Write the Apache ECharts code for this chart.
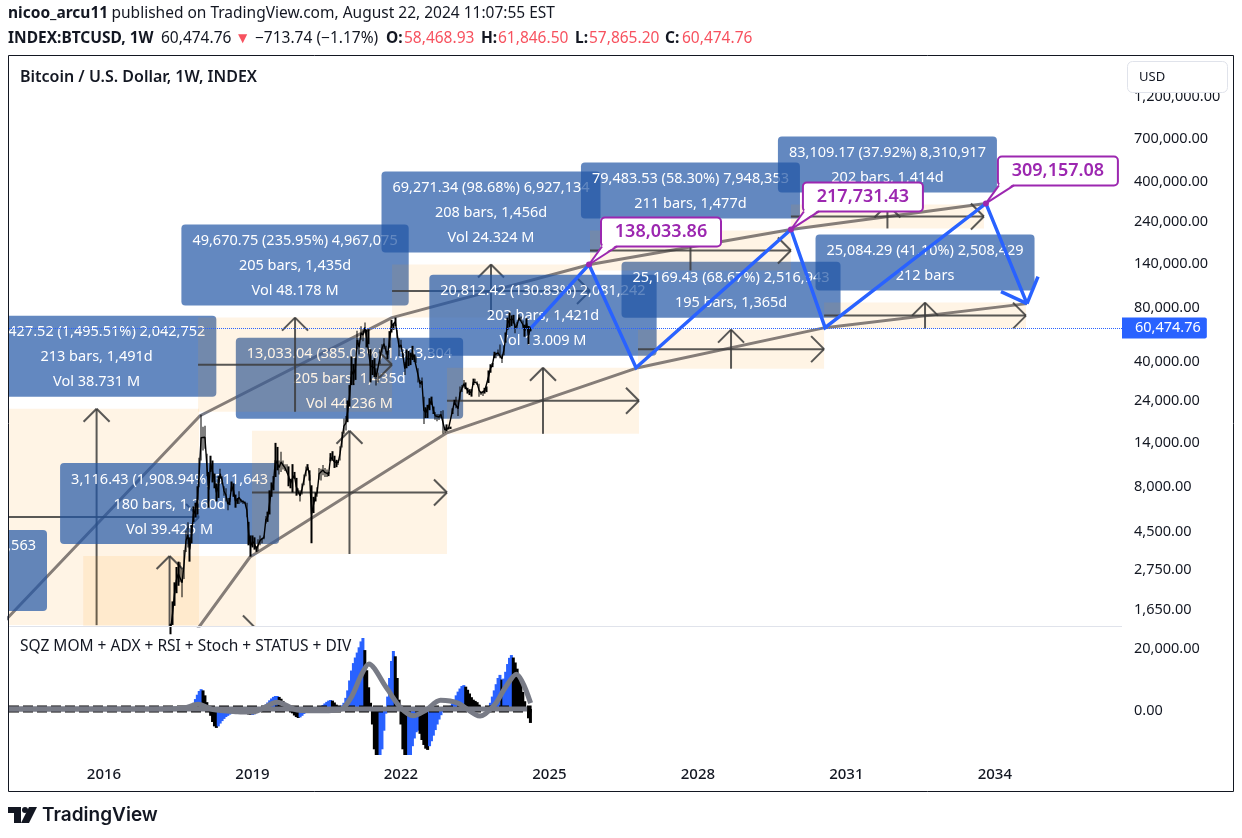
<!DOCTYPE html>
<html>
<head>
<meta charset="utf-8">
<style>html,body{margin:0;padding:0;background:#fff}#main{width:1242px;height:838px}</style>
<script src="https://cdn.jsdelivr.net/npm/echarts@6/dist/echarts.min.js"></script>
</head>
<body>
<div id="main"></div>
<script>
// weekly BTC, one sample every two weeks, from spring 2017
var priceStart = 2017.27;
var priceLow = [1010,1120,1180,1330,1700,2000,2200,2300,1900,2400,3400,3600,3000,3800,5000,5300,5500,7800,11000,
  12500,12800,9000,6000,9500,8300,7700,6500,6800,8700,8100,7000,6500,5800,6200,7400,6900,6000,6300,6300,6400,6300,6300,5300,3700,3200,
  3600,3500,3400,3450,3700,3800,4000,4900,5000,5500,6900,7500,8900,9700,9200,9500,9800,9600,9500,7900,7700,7300,8700,7000,7100,6500,
  7100,8000,9000,9700,8500,3800,5600,6500,6900,8600,8500,9100,8900,8900,9000,10900,11000,10000,10100,10400,11000,13000,15500,16200,18000,22000,
  29000,29000,31000,46000,43000,52000,51000,57000,47000,49000,30000,33000,32000,28800,30000,38000,44000,46000,43000,40500,47000,57000,59000,62000,53000,42000,
  45600,41000,33000,36000,37000,37500,40000,39000,38500,30000,28000,29000,17600,19000,19000,21000,22500,20000,18600,18200,18500,19000,15500,15700,16000,16400,
  16500,20000,22500,21500,19500,24000,26500,28000,27500,26000,25500,25000,29000,29800,29000,25000,25500,25200,26000,26500,29800,34000,36500,41000,41000,42000,
  41000,38500,42500,50000,59000,61000,62000,64000,56500,60000,66000,66000,60000,54000,60000,49000,57900];
var priceHigh = [1280,1240,1350,1800,2300,2800,3000,2980,2750,3480,4480,4980,4100,4800,6100,6400,7900,11400,19800,
  17000,17200,12000,9500,11700,11000,9300,8200,9000,9900,9000,7900,7700,6800,6800,8400,8200,7100,6800,7400,6700,6600,6500,6400,5000,4200,
  4200,4100,3650,4000,4200,4050,4200,5400,5700,7500,8300,9000,13800,13100,11000,12300,11000,10500,10500,10200,8700,10500,9500,8800,7700,7500,
  8200,9200,10200,10500,9700,8000,6900,7300,7800,10000,9900,10400,10000,9800,9500,12100,12400,11700,11100,11000,13200,15900,18900,19500,23800,29000,
  41900,38000,41000,58300,52000,61700,59500,64800,59000,59500,46000,40000,41000,36000,34000,46000,49000,52900,48000,45000,58000,66900,64000,69000,59000,53000,
  51900,44000,39000,45800,45000,44000,48000,43000,42000,36000,31000,32000,25000,21800,22500,24500,25000,22000,20500,20000,20000,20800,21000,17000,17500,16900,
  17000,21500,24000,25000,23500,28500,29000,31000,30000,28000,27500,27500,31500,31500,30500,29500,26800,27000,28000,28500,35000,37900,38500,44500,44000,45800,
  48900,43000,48000,57000,69000,73700,71000,71500,64000,65500,71900,70000,66500,63000,68500,62000,61900];
var lastPrice = 60474.76;

// same dates as the price samples, squeeze momentum
var momentum = [50,100,100,150,200,250,300,300,350,400,500,600,800,
  1200,2000,3200,4600,5800,6400,6000,4400,2200,200,-2200,-4200,-5600,-6100,
  -5600,-4700,-3900,-3200,-2600,-2200,-1800,-1500,-1300,-1200,-1100,-1200,-1300,-1400,-1500,-1600,-1800,-1900,-1900,
  -1700,-1300,-900,-400,100,700,1400,2100,2800,3400,3900,4200,4200,
  3900,3300,2600,1800,1000,200,-600,-1400,-2100,-2600,-2900,
  -2700,-2200,-1600,-1000,-500,-200,100,300,500,600,600,900,1300,1800,2300,2700,2900,
  2700,2100,1400,1000,900,1200,2000,3600,6000,9200,12400,14800,16600,18200,19900,21800,22900,
  19000,12500,7000,2000,-5000,-13000,-20000,
  -22000,-19000,-13000,-7000,-1500,4000,10000,15500,18700,
  17000,10000,3000,-5000,-13000,-20000,-24000,
  -21000,-16000,-12000,-9500,-7500,-7000,-8000,-10000,-11600,-12800,-13200,
  -12000,-10400,-8600,-6800,-5000,-3400,-2000,-1000,-300,
  200,600,1000,1800,3000,4400,5600,6600,7400,7700,
  7200,6200,5000,3800,3000,2600,2200,1400,600,
  100,-200,-200,500,2000,4000,6000,8000,10000,11000,9500,9800,12000,14500,16500,17400,
  16600,15000,13000,11000,8500,5500,2500,-500,-3000,-4500];

var signalDates = [2014.08,2017.0,2017.6,2017.9,2018.2,2018.7,2019.0,2019.5,2019.9,2020.4,2020.8,2021.0,2021.2,2021.35,2021.7,2022.0,2022.25,2022.5,2022.8,2023.15,2023.6,2023.9,2024.1,2024.33,2024.62];
var signalValues = [0,0,300,1500,-200,-900,-1000,2200,-300,-600,0,3900,11000,14500,7000,300,-2200,-400,2800,1900,-2300,1500,6700,11200,1900];

// date and price range tools, oldest first
var rangeLeft = [2013.78,2015.58,2018.99,2017.9,2021.82,2022.93,2026.79,2025.82,2029.88,2030.55];
var rangeRight = [2017.92,2019.07,2022.93,2021.82,2025.82,2026.81,2030.55,2029.88,2033.78,2034.63];
var rangeTop = [21390,3225,16110,69000,136500,36260,59130,211500,295500,83700];
var rangeBottom = [1327,500,3308,20580,69000,15500,35800,126400,217000,59900];
var rangeText = [
  '20,427.52 (1,495.51%) 2,042,752\n213 bars, 1,491d\nVol 38.731 M',
  '3,116.43 (1,908.94%) 311,643\n180 bars, 1,260d\nVol 39.425 M',
  '13,033.04 (385.03%) 1,303,304\n205 bars, 1,435d\nVol 44.236 M',
  '49,670.75 (235.95%) 4,967,075\n205 bars, 1,435d\nVol 48.178 M',
  '69,271.34 (98.68%) 6,927,134\n208 bars, 1,456d\nVol 24.324 M',
  '20,812.42 (130.83%) 2,081,242\n203 bars, 1,421d\nVol 13.009 M',
  '25,169.43 (68.67%) 2,516,943\n195 bars, 1,365d',
  '79,483.53 (58.30%) 7,948,353\n211 bars, 1,477d',
  '83,109.17 (37.92%) 8,310,917\n202 bars, 1,414d',
  '25,084.29 (41.10%) 2,508,429\n212 bars'
];
// only the tail of this one is on screen
var stubLabelDate = [2014.08];
var stubLabelPrice = [2495];
var stubLabelText = [',563'];

var topCurveDates = [2013.78,2017.94,2021.82,2025.82,2029.88,2033.82];
var topCurvePrices = [1213,19550,69000,136500,214200,299300];
var lowCurveDates = [2017.74,2018.95,2022.93,2026.79,2030.57,2034.65];
var lowCurvePrices = [1108,3184,15700,36260,60670,82600];

var pathDates = [2024.63,2025.80,2026.75,2029.88,2030.57,2033.82,2034.65];
var pathPrices = [60475,136500,36260,214200,60670,299300,82600];

var calloutDates = [2025.80,2029.88,2033.82];
var calloutPrices = [136500,214200,299300];
var calloutText = ['138,033.86','217,731.43','309,157.08'];

var priceTicks = [1650,2750,4500,8000,14000,24000,40000,80000,140000,240000,400000,700000,1200000];
var momentumTicks = [0,20000];
var yearTicks = [2016,2019,2022,2025,2028,2031,2034];

var font = '"Noto Sans", sans-serif';
var inkColor = '#131722';
var red = '#f7525f';
var blue = '#2962ff';
var purple = '#9c27b0';
var gray = '#787b86';

var myChart = echarts.init(document.getElementById('main'));

var step = 1 / 26;
function dateOf(i) { return priceStart + i * step; }

var candles = [];
var middles = [];
for (var i = 0; i < priceLow.length; i++) {
  // bars are about a pixel wide, only the range shows
  candles.push([dateOf(i), priceLow[i], priceHigh[i], priceLow[i], priceHigh[i]]);
  // ties neighbouring bars together so the trace stays unbroken
  middles.push([dateOf(i), Math.sqrt(priceLow[i] * priceHigh[i])]);
}

var momentumBars = [];
for (var j = 0; j < momentum.length; j++) {
  var rising = j === 0 || momentum[j] >= momentum[j - 1];
  momentumBars.push({ value: [dateOf(j), momentum[j]], itemStyle: { color: rising ? blue : '#000' } });
}

function zip(a, b) {
  var out = [];
  for (var k = 0; k < a.length; k++) out.push([a[k], b[k]]);
  return out;
}

var rangeRows = [];
for (var r = 0; r < rangeLeft.length; r++) {
  rangeRows.push([rangeLeft[r], rangeRight[r], rangeTop[r], rangeBottom[r], r]);
}

var calloutRows = [];
for (var c = 0; c < calloutDates.length; c++) {
  calloutRows.push([calloutDates[c], calloutPrices[c], c]);
}

function money(v) {
  return Number(v).toLocaleString('en-US', { minimumFractionDigits: 2, maximumFractionDigits: 2 });
}

function segment(x1, y1, x2, y2) {
  return {
    type: 'line',
    shape: { x1: x1, y1: y1, x2: x2, y2: y2 },
    style: { stroke: 'rgba(60,60,60,0.85)', lineWidth: 2 }
  };
}

function renderRange(params, api) {
  var tl = api.coord([api.value(0), api.value(2)]);
  var br = api.coord([api.value(1), api.value(3)]);
  var midX = (tl[0] + br[0]) / 2;
  var midY = (tl[1] + br[1]) / 2;
  return {
    type: 'group',
    children: [
      { type: 'rect', shape: { x: tl[0], y: tl[1], width: br[0] - tl[0], height: br[1] - tl[1] }, style: { fill: 'rgba(255,152,0,0.1)' } },
      segment(tl[0], midY, br[0], midY),
      segment(br[0] - 13, midY - 13, br[0], midY),
      segment(br[0] - 13, midY + 13, br[0], midY),
      segment(midX, br[1], midX, tl[1]),
      segment(midX - 13, tl[1] + 13, midX, tl[1]),
      segment(midX + 13, tl[1] + 13, midX, tl[1]),
      {
        type: 'text',
        style: {
          text: rangeText[api.value(4)],
          x: midX, y: tl[1] - 12,
          align: 'center', verticalAlign: 'bottom',
          fill: '#fff', font: '14.5px ' + font, lineHeight: 25,
          backgroundColor: 'rgba(33,85,165,0.7)',
          padding: [4, 11, 2, 11], borderRadius: 4
        }
      }
    ]
  };
}

function renderStub(params, api) {
  var p = api.coord([api.value(0), api.value(1)]);
  return {
    type: 'group',
    children: [
      { type: 'rect', shape: { x: p[0], y: p[1] - 46, width: 38, height: 81, r: [0, 4, 4, 0] }, style: { fill: 'rgba(33,85,165,0.7)' } },
      { type: 'text', style: { text: stubLabelText[params.dataIndex], x: p[0] + 27, y: p[1] - 30, align: 'right', verticalAlign: 'middle', fill: '#fff', font: '14.5px ' + font } }
    ]
  };
}

function renderCallout(params, api) {
  var p = api.coord([api.value(0), api.value(1)]);
  var left = p[0] + 12, bottom = p[1] - 18, w = 120, h = 29;
  var stroke = { stroke: purple, lineWidth: 2, fill: null };
  return {
    type: 'group',
    children: [
      { type: 'rect', shape: { x: left, y: bottom - h, width: w, height: h, r: 4 }, style: { fill: '#fff', stroke: purple, lineWidth: 2 } },
      { type: 'polygon', shape: { points: [[p[0], p[1]], [left + 2, bottom - 2], [left + 16, bottom - 2]] }, style: { fill: '#fff' } },
      { type: 'line', shape: { x1: p[0], y1: p[1], x2: left + 1, y2: bottom }, style: stroke },
      { type: 'line', shape: { x1: p[0], y1: p[1], x2: left + 16, y2: bottom }, style: stroke },
      { type: 'circle', shape: { cx: p[0], cy: p[1], r: 3 }, style: { fill: purple } },
      { type: 'text', style: { text: calloutText[api.value(2)], x: left + w / 2, y: bottom - h / 2, align: 'center', verticalAlign: 'middle', fill: purple, font: '600 18px ' + font } }
    ]
  };
}

function renderPathHead(params, api) {
  var p = api.coord([api.value(0), api.value(1)]);
  return {
    type: 'group',
    children: [
      { type: 'line', shape: { x1: p[0] - 26, y1: p[1] - 12, x2: p[0], y2: p[1] }, style: { stroke: blue, lineWidth: 3.5 } },
      { type: 'line', shape: { x1: p[0] + 11, y1: p[1] - 27, x2: p[0], y2: p[1] }, style: { stroke: blue, lineWidth: 3.5 } }
    ]
  };
}

// second header line, pieces sit at fixed spots like the original strip
var headerY = 39;
var headerBold = '700 15.5px ' + font;
var headerPlain = '15.5px ' + font;
var headerPieces = [
  [8, 'INDEX:BTCUSD, 1W', headerBold, inkColor],
  [161, '60,474.76', headerPlain, inkColor],
  [235, '▼', headerPlain, red],
  [255, '−713.74 (−1.17%)', headerPlain, inkColor],
  [386, 'O:', headerBold, inkColor],
  [404, '58,468.93', headerPlain, red],
  [481, 'H:', headerBold, inkColor],
  [498, '61,846.50', headerPlain, red],
  [575, 'L:', headerBold, inkColor],
  [589, '57,865.20', headerPlain, red],
  [665, 'C:', headerBold, inkColor],
  [682, '60,474.76', headerPlain, red]
];

var graphics = [
  { type: 'text', z: 100, style: { x: 8, y: 14, verticalAlign: 'middle', text: '{b|nicoo_arcu11} {n|published on TradingView.com, August 22, 2024 11:07:55 EST}', rich: { b: { font: headerBold, fill: inkColor }, n: { font: headerPlain, fill: inkColor } } } },
  { type: 'rect', z: 90, shape: { x: 9, y: 626, width: 1113, height: 1 }, style: { fill: '#e0e3eb' } },
  { type: 'rect', z: 100, shape: { x: 8.5, y: 55.5, width: 1225, height: 736 }, style: { fill: 'transparent', stroke: inkColor, lineWidth: 1 } },
  { type: 'text', z: 100, style: { x: 20, y: 77, verticalAlign: 'middle', text: 'Bitcoin / U.S. Dollar, 1W, INDEX', font: '600 16px ' + font, fill: inkColor } },
  { type: 'text', z: 100, style: { x: 20, y: 647, verticalAlign: 'middle', text: 'SQZ MOM + ADX + RSI + Stoch + STATUS + DIV', font: '15.5px ' + font, fill: inkColor } },
  { type: 'rect', z: 95, shape: { x: 1127.5, y: 61.5, width: 100, height: 31, r: 5 }, style: { fill: '#fff', stroke: '#e0e3eb', lineWidth: 1 } },
  { type: 'text', z: 100, style: { x: 1139, y: 77, verticalAlign: 'middle', text: 'USD', font: '13px ' + font, fill: inkColor } },
  // logo
  { type: 'polygon', z: 100, shape: { points: [[8, 807], [21, 807], [21, 823], [14, 823], [14, 813], [8, 813]] }, style: { fill: inkColor } },
  { type: 'circle', z: 100, shape: { cx: 25, cy: 810, r: 3 }, style: { fill: inkColor } },
  { type: 'polygon', z: 100, shape: { points: [[29, 807], [37, 807], [29, 823], [21, 823]] }, style: { fill: inkColor } },
  { type: 'text', z: 100, style: { x: 42, y: 815, verticalAlign: 'middle', text: 'TradingView', font: '600 19px Inter, ' + font, fill: inkColor } }
];
for (var h = 0; h < headerPieces.length; h++) {
  graphics.push({ type: 'text', z: 100, style: { x: headerPieces[h][0], y: headerY, verticalAlign: 'middle', text: headerPieces[h][1], font: headerPieces[h][2], fill: headerPieces[h][3] } });
}

var option = {
  animation: false,
  backgroundColor: '#fff',
  grid: [
    { left: 9, top: 56, width: 1113, height: 570 },
    { left: 9, top: 626, width: 1113, height: 129 }
  ],
  xAxis: [
    { type: 'value', gridIndex: 0, min: 2014.08, max: 2036.57, axisLine: { show: false }, axisTick: { show: false }, axisLabel: { show: false }, splitLine: { show: false } },
    {
      type: 'value', gridIndex: 1, min: 2014.08, max: 2036.57,
      axisLine: { show: false }, axisTick: { show: false }, splitLine: { show: false },
      axisLabel: { customValues: yearTicks, margin: 12, color: inkColor, fontFamily: font, fontSize: 15, fontWeight: 500, formatter: function(v) { return String(v); } }
    }
  ],
  yAxis: [
    {
      type: 'log', gridIndex: 0, position: 'right', min: 1312, max: 1990000,
      axisLine: { show: false }, axisTick: { show: false }, splitLine: { show: false },
      axisLabel: { customValues: priceTicks, margin: 12, verticalAlign: 'top', lineHeight: 3, color: inkColor, fontFamily: font, fontSize: 14.5, formatter: function(v) { return money(v); } }
    },
    {
      type: 'value', gridIndex: 1, position: 'right', min: -14840, max: 26770,
      axisLine: { show: false }, axisTick: { show: false }, splitLine: { show: false },
      axisLabel: { customValues: momentumTicks, margin: 12, verticalAlign: 'top', lineHeight: 3, color: inkColor, fontFamily: font, fontSize: 14.5, formatter: function(v) { return money(v); } }
    }
  ],
  graphic: graphics,
  series: [
    { type: 'line', name: 'top curve', xAxisIndex: 0, yAxisIndex: 0, z: 1, data: zip(topCurveDates, topCurvePrices), showSymbol: false, silent: true, lineStyle: { color: gray, width: 3 } },
    { type: 'line', name: 'low curve', xAxisIndex: 0, yAxisIndex: 0, z: 1, data: zip(lowCurveDates, lowCurvePrices), showSymbol: false, silent: true, lineStyle: { color: gray, width: 3 } },
    { type: 'custom', name: 'ranges', xAxisIndex: 0, yAxisIndex: 0, z: 2, clip: true, silent: true, data: rangeRows, renderItem: renderRange },
    { type: 'custom', name: 'stub', xAxisIndex: 0, yAxisIndex: 0, z: 2, clip: true, silent: true, data: zip(stubLabelDate, stubLabelPrice), renderItem: renderStub },
    {
      type: 'candlestick', name: 'BTCUSD', xAxisIndex: 0, yAxisIndex: 0, z: 4, barWidth: 2, silent: true,
      encode: { x: 0, y: [1, 2, 3, 4] }, data: candles,
      itemStyle: { color: '#000', color0: '#000', borderColor: '#000', borderColor0: '#000', borderWidth: 0 },
      markLine: {
        silent: true, symbol: 'none', animation: false,
        lineStyle: { color: blue, type: 'dotted', width: 1 },
        label: { position: 'end', distance: 0, formatter: money(lastPrice), color: '#fff', backgroundColor: blue, padding: [4, 6, 2, 13], borderRadius: [0, 2, 2, 0], fontFamily: font, fontSize: 14.5 },
        data: [{ yAxis: lastPrice, x: 9 }]
      }
    },
    { type: 'line', name: 'trace', xAxisIndex: 0, yAxisIndex: 0, z: 4, data: middles, showSymbol: false, silent: true, lineStyle: { color: '#000', width: 1.4 } },
    { type: 'line', name: 'projection', xAxisIndex: 0, yAxisIndex: 0, z: 5, data: zip(pathDates, pathPrices), showSymbol: false, silent: true, lineStyle: { color: blue, width: 3.5, join: 'miter' } },
    { type: 'custom', name: 'projection head', xAxisIndex: 0, yAxisIndex: 0, z: 5, silent: true, data: [[pathDates[pathDates.length - 1], pathPrices[pathPrices.length - 1]]], renderItem: renderPathHead },
    { type: 'custom', name: 'callouts', xAxisIndex: 0, yAxisIndex: 0, z: 6, silent: true, data: calloutRows, renderItem: renderCallout },
    { type: 'bar', name: 'momentum', xAxisIndex: 1, yAxisIndex: 1, z: 2, barWidth: 3, silent: true, data: momentumBars },
    { type: 'line', name: 'zero dashes', xAxisIndex: 1, yAxisIndex: 1, z: 3, data: [[2014.08, 0], [2024.64, 0]], showSymbol: false, silent: true, lineStyle: { color: '#000', width: 7, type: [10, 4] } },
    { type: 'line', name: 'zero', xAxisIndex: 1, yAxisIndex: 1, z: 3, data: [[2014.08, 0], [2024.55, 0]], showSymbol: false, silent: true, lineStyle: { color: gray, width: 5 } },
    { type: 'line', name: 'signal', xAxisIndex: 1, yAxisIndex: 1, z: 4, data: zip(signalDates, signalValues), showSymbol: false, smooth: 0.3, silent: true, lineStyle: { color: gray, width: 5 } }
  ]
};

myChart.setOption(option);
</script>
</body>
</html>
